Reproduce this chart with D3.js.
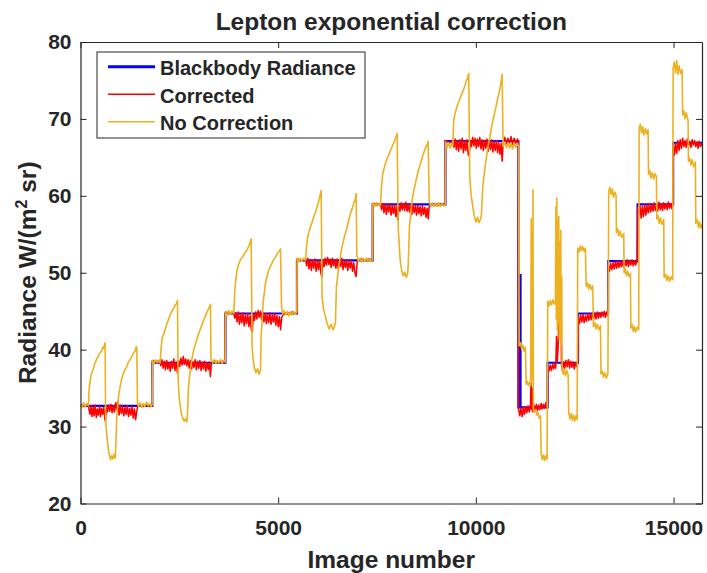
<!DOCTYPE html>
<html>
<head>
<meta charset="utf-8">
<script src="https://cdn.jsdelivr.net/npm/d3@7"></script>
<style>
  body { margin: 0; background: #fff; }
  svg text { font-family: "Liberation Sans", Arial, Helvetica, sans-serif; font-weight: bold; fill: #262626; }
</style>
</head>
<body>
<svg id="chart" width="707" height="573"></svg>
<script>
// ---- data ----
const xTicks = [0, 5000, 10000, 15000];
const yTicks = [20, 30, 40, 50, 60, 70, 80];
const seriesNames = ["Blackbody Radiance", "Corrected", "No Correction"];

// blackbody radiance: step starts (image number) and levels
const stepStarts = [0, 1815, 3665, 5475, 7390, 9230, 11075, 11110, 11130, 11815, 12585, 13345, 14090, 14990];
const bbLevels   = [32.7, 38.3, 44.7, 51.6, 58.9, 67.1, 32.5, 49.7, 32.5, 38.3, 44.7, 51.5, 58.9, 66.9];
const lastImage = 15720;

// corrected radiance
const corrected = [
  [0,32.8],[100,32.6],[190,32.9],[210,32.3],[240,31.6],[265,32.7],[290,31.3],[320,32.5],[345,31.4],[370,32.8],[400,31.2],[425,32.3],[450,31.5],[480,32.6],[505,31.3],[530,32.4],[560,31.6],[590,32.5],[615,31.0],[630,30.7],[655,32.6],[680,31.9],[710,32.8],[740,32.0],[770,32.9],[800,31.8],[830,32.7],[860,31.9],[890,33.1],[920,32.2],[945,33.3],[975,31.5],[1005,32.8],[1035,31.7],[1065,32.6],[1095,31.4],[1125,32.5],[1155,31.6],[1185,32.7],[1215,31.3],[1245,32.4],[1275,31.5],[1305,32.6],[1335,31.1],[1365,32.3],[1395,30.9],[1420,31.9],[1450,32.8],[1550,32.6],[1650,32.9],[1750,32.6],[1812,32.8],
  [1818,38.6],[1900,38.4],[2000,38.6],[2030,37.9],[2060,38.7],[2090,37.6],[2120,38.5],[2150,37.4],[2180,38.6],[2210,37.5],[2240,38.3],[2270,37.2],[2300,38.5],[2330,37.6],[2360,38.8],[2390,37.3],[2420,38.4],[2450,37.0],[2480,38.6],[2510,37.8],[2540,38.9],[2570,38.0],[2600,39.1],[2630,38.1],[2660,38.8],[2690,37.9],[2720,38.7],[2750,37.6],[2780,38.6],[2810,37.5],[2840,38.4],[2870,37.7],[2900,38.7],[2930,37.4],[2960,38.5],[2990,37.6],[3020,38.6],[3050,37.3],[3080,38.4],[3110,37.5],[3140,38.5],[3170,37.2],[3200,38.3],[3230,37.4],[3260,38.4],[3285,36.5],[3310,38.2],[3400,38.5],[3500,38.3],[3600,38.5],[3660,38.4],
  [3668,44.9],[3780,44.7],[3870,44.9],[3900,44.1],[3930,44.8],[3960,43.6],[3990,44.9],[4020,43.3],[4050,44.6],[4080,43.5],[4110,44.8],[4140,43.1],[4170,44.5],[4200,43.4],[4230,44.7],[4260,43.0],[4290,44.4],[4320,42.6],[4345,42.3],[4370,44.6],[4400,43.8],[4430,44.9],[4460,44.0],[4490,45.1],[4520,44.2],[4550,45.0],[4580,43.9],[4610,44.8],[4640,43.6],[4670,44.7],[4700,43.4],[4730,44.6],[4760,43.5],[4790,44.8],[4820,43.3],[4850,44.5],[4880,43.6],[4910,44.7],[4940,43.2],[4970,44.4],[5000,43.0],[5030,44.3],[5060,42.6],[5090,44.2],[5150,44.8],[5250,44.6],[5350,44.9],[5472,44.7],
  [5480,51.8],[5600,51.6],[5690,51.8],[5720,50.9],[5750,51.9],[5780,50.5],[5810,51.7],[5840,50.3],[5870,51.6],[5900,50.6],[5930,51.8],[5960,50.2],[5990,51.5],[6020,50.4],[6050,51.7],[6080,49.9],[6105,49.5],[6130,51.6],[6160,50.8],[6190,51.9],[6220,51.0],[6250,52.0],[6280,51.1],[6310,51.8],[6340,50.7],[6370,51.9],[6400,50.9],[6430,51.7],[6460,50.6],[6490,51.8],[6520,50.5],[6550,51.6],[6580,50.8],[6610,51.9],[6640,50.4],[6670,51.5],[6700,50.7],[6730,51.7],[6760,50.3],[6790,51.4],[6820,50.6],[6850,51.6],[6880,50.2],[6910,51.3],[6940,50.0],[6970,49.5],[7000,51.5],[7100,51.8],[7200,51.6],[7300,51.8],[7388,51.7],
  [7395,59.0],[7500,58.8],[7587,59.0],[7615,58.2],[7645,59.0],[7675,57.8],[7705,58.9],[7735,57.6],[7765,58.8],[7795,57.9],[7825,59.0],[7855,57.5],[7885,58.7],[7915,57.7],[7945,58.9],[7975,57.3],[8005,58.6],[8025,56.9],[8050,58.8],[8080,58.0],[8110,59.1],[8140,58.2],[8170,59.0],[8200,58.1],[8230,59.2],[8260,58.0],[8290,58.9],[8320,57.9],[8350,58.8],[8380,57.6],[8410,58.9],[8440,57.8],[8470,58.7],[8500,57.5],[8530,58.8],[8560,57.7],[8590,58.6],[8620,57.4],[8650,58.7],[8680,57.6],[8710,58.5],[8740,57.2],[8770,58.4],[8795,57.0],[8820,58.6],[8920,58.9],[9020,58.7],[9120,59.0],[9226,58.8],
  [9235,67.2],[9330,66.9],[9416,67.1],[9445,66.3],[9475,67.4],[9505,66.0],[9535,67.2],[9565,65.8],[9595,67.3],[9625,66.1],[9655,67.5],[9685,65.6],[9715,67.1],[9745,65.9],[9775,67.3],[9805,65.4],[9830,65.2],[9860,67.2],[9890,66.4],[9920,67.6],[9950,66.5],[9980,67.5],[10010,66.2],[10040,67.4],[10070,66.4],[10100,67.6],[10130,66.1],[10160,67.3],[10190,65.9],[10220,67.2],[10250,66.2],[10280,67.4],[10310,65.8],[10340,67.1],[10370,66.0],[10400,67.3],[10430,65.7],[10460,67.0],[10490,65.9],[10520,67.2],[10550,65.6],[10580,66.9],[10610,65.4],[10640,66.8],[10665,64.5],[10690,66.9],[10730,67.6],[10770,66.8],[10810,67.5],[10850,66.9],[10890,67.7],[10930,66.7],[10970,67.5],[11010,66.8],[11050,67.4],[11072,67.0],
  [11080,32.3],[11110,31.4],[11140,32.4],[11170,31.3],[11200,32.5],[11230,31.6],[11260,32.6],[11290,31.8],[11320,32.7],[11350,31.9],[11380,32.6],[11395,35.7],[11410,32.2],[11425,35.0],[11440,31.9],[11470,32.8],[11500,32.0],[11530,32.9],[11560,32.1],[11590,32.8],[11620,32.2],[11650,33.0],[11680,32.3],[11710,32.9],[11740,32.4],[11770,33.1],[11800,32.6],[11812,32.9],
  [11822,37.8],[11850,37.2],[11880,38.0],[11910,37.3],[11940,38.1],[11970,37.5],[12000,38.2],[12020,37.6],[12040,41.7],[12060,38.5],[12080,40.2],[12100,44.0],[12120,51.3],[12135,46.0],[12150,48.7],[12165,38.1],[12190,37.3],[12220,38.4],[12250,37.6],[12280,38.6],[12310,37.8],[12340,38.7],[12370,37.6],[12400,38.5],[12430,37.7],[12460,38.4],[12490,37.5],[12520,38.3],[12550,37.8],[12580,38.2],
  [12592,44.2],[12620,43.4],[12650,44.5],[12680,43.6],[12710,44.6],[12740,43.5],[12770,44.4],[12800,43.7],[12830,44.7],[12860,43.8],[12890,44.6],[12920,43.9],[12950,44.8],[12980,44.0],[13010,44.7],[13040,44.0],[13070,44.9],[13100,44.1],[13130,44.8],[13160,44.2],[13190,44.9],[13220,44.3],[13250,45.0],[13280,44.2],[13310,44.9],[13340,44.4],
  [13352,51.0],[13380,50.2],[13410,51.2],[13440,50.4],[13470,51.3],[13500,50.5],[13530,51.4],[13560,50.6],[13590,51.5],[13620,50.7],[13650,51.4],[13680,50.8],[13710,51.6],[13740,50.7],[13770,51.5],[13800,50.9],[13830,51.7],[13860,50.8],[13890,51.6],[13920,51.0],[13950,51.7],[13980,50.9],[14010,51.6],[14040,51.0],[14080,51.5],
  [14095,58.5],[14120,57.4],[14150,58.8],[14180,57.1],[14210,58.6],[14240,57.3],[14270,58.9],[14300,57.5],[14330,58.7],[14360,57.8],[14390,59.0],[14420,57.9],[14450,58.8],[14480,58.0],[14510,59.1],[14540,58.1],[14570,58.9],[14600,58.0],[14630,59.2],[14660,58.2],[14690,59.0],[14720,58.1],[14750,59.1],[14780,58.3],[14810,59.0],[14840,58.2],[14870,59.2],[14900,58.4],[14930,59.0],[14960,58.3],[14985,58.9],
  [14995,66.5],[15020,65.3],[15050,66.8],[15080,65.5],[15110,67.2],[15140,65.9],[15170,67.3],[15200,66.2],[15230,67.5],[15260,66.4],[15290,67.2],[15320,66.3],[15350,67.4],[15380,66.5],[15410,67.1],[15440,66.3],[15470,67.3],[15500,66.6],[15530,67.2],[15560,66.4],[15590,67.0],[15620,66.2],[15650,67.1],[15680,66.4],[15720,66.8]
];

// uncorrected radiance
const noCorrection = [
  [0,32.9],[40,32.5],[80,33.1],[120,32.6],[160,33.0],[200,32.7],
  [215,34.6],[228,35.3],[250,36.1],[270,36.8],[300,37.1],[329,37.6],[360,38.2],[390,38.5],[413,38.9],[440,39.0],[470,39.4],[497,39.6],[530,39.8],[560,40.3],[582,40.2],[605,40.6],[622,40.9],
  [635,31.2],[650,29.8],[670,28.6],[700,27.3],[730,26.3],[760,25.7],[790,26.2],[820,25.8],[850,26.4],[880,25.9],[895,27.8],[915,31.0],[936,32.4],[970,34.3],[1003,35.2],[1040,36.2],[1088,37.0],[1130,37.4],[1172,37.8],[1210,38.4],[1257,38.7],[1300,39.1],[1341,39.6],[1380,39.8],[1410,40.4],[1425,40.2],
  [1440,33.2],[1470,32.6],[1510,33.1],[1550,32.5],[1590,33.0],[1630,32.6],[1670,33.2],[1710,32.7],[1750,33.0],[1790,32.6],[1812,32.9],
  [1818,38.6],[1860,38.2],[1900,38.7],[1940,38.3],[1980,38.6],[2015,38.3],
  [2040,40.4],[2074,41.7],[2110,42.1],[2141,42.6],[2185,43.4],[2226,43.9],[2270,44.6],[2310,45.0],[2350,45.3],[2394,45.8],[2430,46.0],[2453,46.4],
  [2470,36.1],[2500,33.5],[2546,31.8],[2580,31.2],[2620,30.7],[2660,31.0],[2690,30.6],[2706,31.5],[2730,35.0],[2757,36.5],[2790,37.8],[2816,38.7],[2860,39.9],[2917,40.9],[2970,41.8],[3027,42.6],[3090,43.5],[3153,44.3],[3210,45.0],[3263,45.6],[3288,45.9],
  [3300,38.8],[3340,38.3],[3380,38.7],[3420,38.2],[3460,38.6],[3500,38.3],[3540,38.7],[3580,38.2],[3620,38.6],[3660,38.4],
  [3668,44.9],[3710,44.4],[3750,45.1],[3790,44.6],[3830,45.0],[3877,44.7],
  [3900,47.4],[3920,48.7],[3962,50.4],[4000,51.1],[4046,51.7],[4090,52.0],[4130,52.3],[4170,52.7],[4215,53.0],[4260,53.5],[4299,54.1],[4317,54.4],
  [4340,40.4],[4367,38.7],[4400,37.6],[4440,37.0],[4480,37.5],[4520,36.8],[4552,37.4],[4569,41.7],[4620,46.1],[4679,48.7],[4720,49.6],[4763,50.4],[4830,51.1],[4889,51.7],[4940,52.1],[4990,52.6],[5030,52.8],[5058,53.1],
  [5085,45.8],[5110,44.6],[5150,45.1],[5190,44.5],[5230,45.0],[5270,44.4],[5310,44.9],[5350,44.5],[5390,45.0],[5430,44.6],[5472,44.9],
  [5480,51.9],[5520,51.4],[5560,51.9],[5600,51.5],[5650,51.9],[5690,51.6],
  [5716,53.4],[5749,54.7],[5780,55.3],[5817,56.0],[5860,56.6],[5901,57.3],[5940,57.8],[5986,58.6],[6020,59.2],[6052,59.9],[6087,60.7],
  [6110,46.9],[6150,45.2],[6196,44.3],[6240,43.4],[6290,42.7],[6340,43.3],[6390,42.6],[6430,43.1],[6449,43.6],[6474,48.2],[6533,50.8],[6575,52.2],[6618,53.4],[6670,54.6],[6727,55.6],[6780,56.7],[6828,57.75],[6870,58.3],[6912,59.05],[6950,59.6],[6972,60.3],
  [6990,52.2],[7030,51.5],[7070,51.9],[7110,51.4],[7150,51.9],[7190,51.5],[7230,51.9],[7270,51.4],[7310,51.8],[7350,51.5],[7388,51.7],
  [7395,59.1],[7440,58.6],[7480,59.1],[7520,58.7],[7560,59.0],[7587,58.8],
  [7612,61.2],[7646,62.9],[7680,63.6],[7713,64.2],[7760,64.9],[7798,65.3],[7840,65.9],[7882,66.4],[7925,66.9],[7966,67.5],[8009,68.1],
  [8035,56.0],[8085,51.7],[8120,50.4],[8160,49.6],[8200,50.1],[8240,49.4],[8275,49.9],[8288,51.0],[8321,56.0],[8389,59.5],[8440,60.9],[8490,62.1],[8545,63.3],[8599,64.2],[8655,65.2],[8709,66.0],[8760,66.6],[8793,67.1],
  [8820,59.2],[8860,58.7],[8900,59.1],[8940,58.6],[8980,59.0],[9020,58.7],[9060,59.1],[9100,58.6],[9140,59.0],[9180,58.7],[9226,58.9],
  [9235,67.0],[9270,66.3],[9310,66.9],[9350,66.2],[9390,66.8],[9416,66.5],
  [9441,69.9],[9470,70.6],[9500,71.2],[9540,71.9],[9585,72.5],[9625,73.0],[9669,73.55],[9710,74.1],[9753,74.85],[9790,75.3],[9820,75.9],
  [9845,62.5],[9880,60.1],[9922,58.6],[9960,57.4],[10000,56.6],[10040,57.2],[10080,56.5],[10120,57.0],[10141,57.6],[10175,61.2],[10220,63.2],[10259,64.7],[10310,66.5],[10369,68.1],[10430,69.8],[10495,71.2],[10550,72.6],[10605,73.8],[10640,74.9],[10664,75.8],
  [10690,66.4],[10730,67.0],[10770,66.3],[10810,66.9],[10850,66.2],[10890,66.8],[10930,66.1],[10970,66.9],[11010,66.3],[11050,66.8],[11080,66.4],
  [11095,40.5],[11130,40.9],[11160,40.0],[11190,40.6],[11220,39.8],[11254,40.3],
  [11272,35.5],[11300,35.9],[11330,35.3],[11360,35.8],[11385,35.4],
  [11400,57.0],[11410,36.0],[11420,54.5],[11432,36.5],[11445,60.8],[11455,32.0],
  [11480,31.9],[11510,32.2],[11540,31.5],[11570,31.8],[11600,31.1],[11635,31.4],
  [11652,26.4],[11680,25.7],[11710,26.3],[11740,25.6],[11770,26.2],[11802,25.8],
  [11818,46.3],[11850,45.7],[11880,46.4],[11910,45.8],[11950,46.5],[11985,45.9],[12013,46.2],
  [12025,58.6],[12035,44.0],[12048,59.7],[12060,42.5],[12072,56.8],[12085,43.5],[12097,57.3],[12110,41.3],[12122,54.0],[12135,42.0],[12148,55.5],[12160,40.6],[12172,49.5],[12182,37.4],
  [12210,36.8],[12240,37.4],[12270,36.6],[12300,37.3],[12334,36.7],
  [12349,31.8],[12380,31.0],[12410,31.7],[12440,30.8],[12470,31.5],[12500,30.7],[12530,31.4],[12562,30.9],
  [12577,53.2],[12610,52.7],[12640,53.5],[12670,52.9],[12700,53.4],[12740,52.8],[12771,53.2],
  [12790,48.2],[12820,48.7],[12850,47.9],[12880,48.5],[12920,47.8],[12956,48.3],
  [12975,43.0],[13010,43.5],[13040,42.7],[13070,43.3],[13110,42.6],[13151,43.1],
  [13165,36.8],[13200,37.2],[13230,36.4],[13260,37.0],[13300,36.3],[13340,36.9],
  [13361,60.6],[13390,61.1],[13420,60.2],[13450,60.9],[13480,59.8],[13515,60.5],[13547,60.0],
  [13555,55.2],[13590,55.7],[13620,54.8],[13650,55.4],[13690,54.6],[13741,55.1],
  [13750,50.0],[13780,50.5],[13810,49.6],[13840,50.2],[13875,49.5],[13910,49.9],
  [13920,42.8],[13950,43.3],[13980,42.4],[14010,43.0],[14040,42.3],[14080,42.9],[14120,42.6],
  [14130,68.8],[14160,69.3],[14190,68.2],[14220,69.0],[14250,67.9],[14290,68.7],[14325,68.0],[14357,68.6],
  [14367,62.8],[14400,63.3],[14430,62.3],[14460,63.0],[14500,62.2],[14530,62.9],[14567,62.5],
  [14577,57.0],[14610,57.4],[14640,56.4],[14670,57.1],[14710,56.3],[14752,56.9],
  [14762,49.4],[14800,49.8],[14830,49.0],[14860,49.6],[14900,48.9],[14940,49.5],[14979,49.1],
  [14990,76.6],[15020,77.4],[15050,76.0],[15080,77.6],[15110,75.8],[15140,76.9],[15180,75.9],[15217,76.4],
  [15230,70.5],[15260,71.1],[15290,70.0],[15320,70.8],[15368,69.8],
  [15378,64.5],[15410,64.9],[15440,64.0],[15470,64.7],[15510,63.8],[15553,64.4],
  [15563,56.4],[15600,56.9],[15630,55.9],[15660,56.6],[15690,55.8],[15720,56.3]
];

// ---- drawing ----
const colors = ["#0000ff", "#ff0000", "#edb120"];
const widths = [2.2, 1.5, 1.6];
const axisColor = "#262626";

const margin = {top: 42, left: 80.5, right: 5, bottom: 69.5};
const width = 707 - margin.left - margin.right,
      height = 573 - margin.top - margin.bottom;

const svg = d3.select("#chart");
const g = svg.append("g").attr("transform", `translate(${margin.left},${margin.top})`);

const x = d3.scaleLinear().domain([0, lastImage]).range([0, width]);
const y = d3.scaleLinear().domain([20, 80]).range([height, 0]);

svg.append("defs").append("clipPath").attr("id", "plotclip")
  .append("rect").attr("width", width).attr("height", height);

const bbPts = stepStarts.map((s, i) => [s, bbLevels[i]]);
bbPts.push([lastImage, bbLevels[bbLevels.length - 1]]);

const line = d3.line().x(d => x(d[0])).y(d => y(d[1]));
const stepLine = d3.line().x(d => x(d[0])).y(d => y(d[1])).curve(d3.curveStepAfter);

const plot = g.append("g").attr("clip-path", "url(#plotclip)");
plot.append("path").datum(bbPts).attr("d", stepLine)
  .attr("fill", "none").attr("stroke", colors[0]).attr("stroke-width", widths[0]);
plot.append("path").datum(corrected).attr("d", line)
  .attr("fill", "none").attr("stroke", colors[1]).attr("stroke-width", widths[1]).attr("stroke-linejoin", "round");
plot.append("path").datum(noCorrection).attr("d", line)
  .attr("fill", "none").attr("stroke", colors[2]).attr("stroke-width", widths[2]).attr("stroke-linejoin", "round");

// axes (box with inward ticks)
const xAxis = d3.axisBottom(x).tickValues(xTicks).tickFormat(d3.format("d"))
  .tickSizeInner(-6).tickSizeOuter(0).tickPadding(17);
const yAxis = d3.axisLeft(y).tickValues(yTicks).tickSizeInner(-6).tickSizeOuter(0).tickPadding(9);
g.append("g").attr("transform", `translate(0,${height})`).call(xAxis);
g.append("g").call(yAxis);
g.append("g").call(d3.axisTop(x).tickValues(xTicks).tickSizeInner(-6).tickSizeOuter(0).tickFormat(""));
g.append("g").attr("transform", `translate(${width},0)`)
  .call(d3.axisRight(y).tickValues(yTicks).tickSizeInner(-6).tickSizeOuter(0).tickFormat(""));

g.selectAll(".domain").attr("stroke", axisColor).attr("stroke-width", 1.2);
g.selectAll(".tick line").attr("stroke", axisColor);
g.selectAll(".tick text").attr("fill", axisColor)
  .style("font-size", "21px").style("font-weight", "bold")
  .style("font-family", '"Liberation Sans", Arial, sans-serif');

// title and labels
svg.append("text").attr("x", margin.left + width / 2).attr("y", 30)
  .attr("text-anchor", "middle").style("font-size", "24.5px")
  .text("Lepton exponential correction");

svg.append("text").attr("x", margin.left + width / 2).attr("y", 568)
  .attr("text-anchor", "middle").style("font-size", "24.5px")
  .text("Image number");

const yl = svg.append("text")
  .attr("transform", `translate(36,${margin.top + height / 2}) rotate(-90)`)
  .attr("text-anchor", "middle").style("font-size", "24.5px");
yl.append("tspan").text("Radiance W/(m");
yl.append("tspan").attr("dy", -9).style("font-size", "16px").text("2");
yl.append("tspan").attr("dy", 9).text(" sr)");

// legend
const leg = svg.append("g").attr("transform", "translate(97,52)");
leg.append("rect").attr("width", 268).attr("height", 86)
  .attr("fill", "#fff").attr("stroke", axisColor).attr("stroke-width", 1);
const rowY = [14.7, 42.3, 69.7];
seriesNames.forEach((name, i) => {
  leg.append("line").attr("x1", 11).attr("x2", 58).attr("y1", rowY[i]).attr("y2", rowY[i])
    .attr("stroke", colors[i]).attr("stroke-width", i === 0 ? 3 : 1.5);
  leg.append("text").attr("x", 63).attr("y", rowY[i] + 8.5)
    .style("font-size", "20px").text(name);
});
</script>
</body>
</html>
